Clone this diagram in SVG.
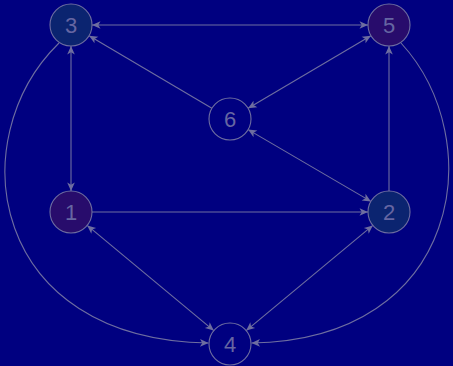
<svg xmlns="http://www.w3.org/2000/svg" width="453" height="366" viewBox="0 0 453 366">
<style>
.edge{fill:none;stroke:#6e6ea0;stroke-width:1.1}
.node circle{stroke:#6e6ea0;stroke-width:1.1}
.node text{font-family:"Liberation Sans","DejaVu Sans",sans-serif;font-size:22px;fill:#6666a2;text-anchor:middle;dominant-baseline:central}
.a{fill:#000080}.b{fill:#0b2470}.c{fill:#280c6c}
</style>
<defs>
<marker id="arr" markerUnits="userSpaceOnUse" markerWidth="12" markerHeight="12" viewBox="-10 -6 12 12" refX="0" refY="0" orient="auto-start-reverse">
<path d="M0,0 L-8.5,-3.8 L-6.3,0 L-8.5,3.8 Z" fill="#6e6ea0"/>
</marker>
</defs>
<rect width="453" height="366" fill="#000080"/>
<g id="connectors">
<line class="edge" x1="92" y1="25" x2="368" y2="25" marker-start="url(#arr)" marker-end="url(#arr)"/>
<line class="edge" x1="211.9" y1="108.3" x2="89.1" y2="35.7" marker-end="url(#arr)"/>
<line class="edge" x1="248.1" y1="108.3" x2="370.9" y2="35.7" marker-start="url(#arr)" marker-end="url(#arr)"/>
<line class="edge" x1="71" y1="46" x2="71" y2="191" marker-start="url(#arr)" marker-end="url(#arr)"/>
<line class="edge" x1="92" y1="212" x2="368" y2="212" marker-end="url(#arr)"/>
<line class="edge" x1="389" y1="191" x2="389" y2="46" marker-end="url(#arr)"/>
<line class="edge" x1="248.1" y1="129.6" x2="370.9" y2="201.4" marker-start="url(#arr)" marker-end="url(#arr)"/>
<line class="edge" x1="87.2" y1="225.4" x2="213.8" y2="330.6" marker-start="url(#arr)" marker-end="url(#arr)"/>
<line class="edge" x1="372.8" y1="225.4" x2="246.2" y2="330.6" marker-start="url(#arr)" marker-end="url(#arr)"/>
<path class="edge" d="M59,43 C-40,140 -10,340 208.5,343" marker-end="url(#arr)"/>
<path class="edge" d="M401,43 C490,140 462,340 251.5,343" marker-end="url(#arr)"/>
</g>
<g id="node3" class="node"><circle class="b" cx="71" cy="25" r="21"/><text x="71" y="25">3</text></g>
<g id="node5" class="node"><circle class="c" cx="389" cy="25" r="21"/><text x="389" y="25">5</text></g>
<g id="node6" class="node"><circle class="a" cx="230" cy="119" r="21"/><text x="230" y="119">6</text></g>
<g id="node1" class="node"><circle class="c" cx="71" cy="212" r="21"/><text x="71" y="212">1</text></g>
<g id="node2" class="node"><circle class="b" cx="389" cy="212" r="21"/><text x="389" y="212">2</text></g>
<g id="node4" class="node"><circle class="a" cx="230" cy="344" r="21"/><text x="230" y="344">4</text></g>
</svg>
